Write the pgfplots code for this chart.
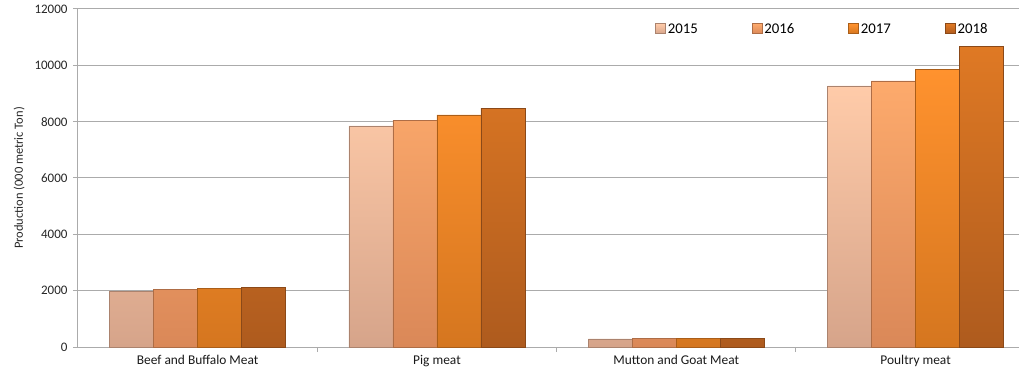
\documentclass[border=0pt]{standalone}
\usepackage{pgfplots}
\pgfplotsset{compat=1.18}
\usepackage{fontspec}
\setmainfont{Carlito}
\definecolor{cAt}{HTML}{FFCBA9}\definecolor{cAb}{HTML}{D6A48A}
\definecolor{cBt}{HTML}{FDAA6C}\definecolor{cBb}{HTML}{DA8858}
\definecolor{cCt}{HTML}{FF922E}\definecolor{cCb}{HTML}{D5761F}
\definecolor{cDt}{HTML}{DF7924}\definecolor{cDb}{HTML}{AE5B1E}
\definecolor{gridc}{HTML}{ABABAB}
\begin{document}
\begin{tikzpicture}
\begin{axis}[
  at={(0,0)}, anchor=south west,
  scale only axis, width=941bp, height=338bp,
  xmin=-0.5, xmax=3.432, ymin=0, ymax=12000,
  ybar=0pt, bar width=44bp,
  axis x line*=bottom, axis y line*=left,
  axis line style={gridc, line width=1bp},
  xtick={0,1,2,3},
  xticklabels={Beef and Buffalo Meat, Pig meat, Mutton and Goat Meat, Poultry meat},
  x tick style={draw=none},
  extra x ticks={0.5,1.5,2.5},
  extra x tick labels={},
  extra x tick style={x tick style={draw=gridc, line width=1bp}, major tick length=5bp, tick align=outside},
  ytick={0,2000,...,12000},
  scaled y ticks=false,
  y tick style={draw=gridc, line width=1bp},
  major tick length=5bp, tick align=outside,
  ymajorgrids, grid style={gridc, line width=1bp},
  /pgf/number format/1000 sep={},
  /pgf/number format/assume math mode=true,
  yticklabel style={font=\fontsize{13bp}{15bp}\selectfont, text=black!85, xshift=-2bp},
  xticklabel style={font=\fontsize{13.4bp}{15bp}\selectfont, text=black!90},
  ylabel={Production (000 metric Ton)},
  ylabel style={font=\fontsize{12.5bp}{14bp}\selectfont, text=black!85, xshift=0bp, yshift=3bp},
  legend columns=4,
  legend style={at={(0.61,1)}, anchor=north west, yshift=-10bp, draw=none, fill=none,
    font=\fontsize{14.8bp}{16bp}\selectfont,
    cells={anchor=base west}, row sep=0pt,
    /tikz/every even column/.append style={column sep=52bp}},
  legend image code/.code={\draw[#1] (0bp,-0.5bp) rectangle (10bp,9.5bp);},
  every axis plot/.append style={line width=0.6bp},
]
\addplot[top color=cAt, bottom color=cAb, draw=cAb!80!black] coordinates {(0,1980) (1,7850) (2,285) (3,9270)};
\addplot[top color=cBt, bottom color=cBb, draw=cBb!80!black] coordinates {(0,2040) (1,8050) (2,310) (3,9450)};
\addplot[top color=cCt, bottom color=cCb, draw=cCb!80!black] coordinates {(0,2080) (1,8240) (2,310) (3,9850)};
\addplot[top color=cDt, bottom color=cDb, draw=cDb!80!black] coordinates {(0,2120) (1,8480) (2,315) (3,10680)};
\legend{2015,2016,2017,2018}
\end{axis}
\pgfresetboundingbox
\path[use as bounding box] (-78bp,-27bp) rectangle (941bp,347bp);
\end{tikzpicture}
\end{document}
